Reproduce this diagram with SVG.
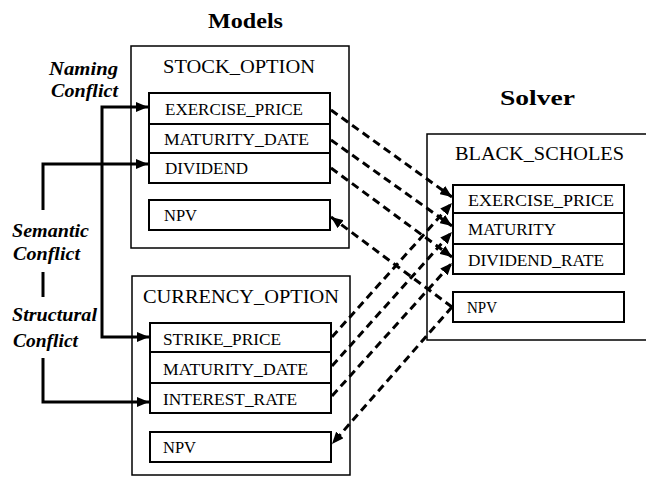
<svg xmlns="http://www.w3.org/2000/svg" width="646" height="479" viewBox="0 0 646 479">
<style>
.bg{fill:#ffffff}
.outer{fill:none;stroke:#000;stroke-width:1.5}
.row{fill:#fff;stroke:#000;stroke-width:2}
.sep{stroke:#000;stroke-width:2}
.title{font-family:"Liberation Serif","Times New Roman",serif;font-weight:bold;font-size:20px;fill:#000}
.name{font-family:"Liberation Serif","Times New Roman",serif;font-size:19px;fill:#000}
.attr{font-family:"Liberation Serif","Times New Roman",serif;font-size:16.5px;fill:#000}
.lbl{font-family:"Liberation Serif","Times New Roman",serif;font-weight:bold;font-style:italic;font-size:19px;fill:#000}
.solid{fill:none;stroke:#000;stroke-width:3}
.dash{fill:none;stroke:#000;stroke-width:3;stroke-dasharray:8 5}
</style>
<defs>
<marker id="arr" markerUnits="userSpaceOnUse" markerWidth="12" markerHeight="10" refX="12" refY="5" orient="auto-start-reverse" viewBox="0 0 12 10">
<path d="M0,0 L12,5 L0,10 z" fill="#000"/>
</marker>
</defs>
<rect class="bg" x="0" y="0" width="646" height="479"/>

<text class="title" x="208" y="28" textLength="75" lengthAdjust="spacingAndGlyphs">Models</text>
<text class="title" x="500" y="105" textLength="75" lengthAdjust="spacingAndGlyphs">Solver</text>

<g id="labels">
<text class="lbl" x="49" y="75" textLength="69" lengthAdjust="spacingAndGlyphs">Naming</text>
<text class="lbl" x="51" y="97" textLength="67" lengthAdjust="spacingAndGlyphs">Conflict</text>
<text class="lbl" x="12" y="237" textLength="77" lengthAdjust="spacingAndGlyphs">Semantic</text>
<text class="lbl" x="13" y="260" textLength="67" lengthAdjust="spacingAndGlyphs">Conflict</text>
<text class="lbl" x="12" y="321" textLength="85" lengthAdjust="spacingAndGlyphs">Structural</text>
<text class="lbl" x="13" y="347" textLength="65" lengthAdjust="spacingAndGlyphs">Conflict</text>
</g>

<g id="stock_option">
<rect class="outer" x="131" y="46" width="218" height="202"/>
<text class="name" x="163" y="73" textLength="152" lengthAdjust="spacingAndGlyphs">STOCK_OPTION</text>
<rect class="row" x="149" y="93" width="181" height="90"/>
<line class="sep" x1="149" y1="124" x2="330" y2="124"/>
<line class="sep" x1="149" y1="153" x2="330" y2="153"/>
<text class="attr" x="165" y="115" textLength="138" lengthAdjust="spacingAndGlyphs">EXERCISE_PRICE</text>
<text class="attr" x="164" y="145" textLength="145" lengthAdjust="spacingAndGlyphs">MATURITY_DATE</text>
<text class="attr" x="165" y="174" textLength="83" lengthAdjust="spacingAndGlyphs">DIVIDEND</text>
<rect class="row" x="149" y="200" width="181" height="30"/>
<text class="attr" x="164" y="221" textLength="33" lengthAdjust="spacingAndGlyphs">NPV</text>
</g>

<g id="currency_option">
<rect class="outer" x="132" y="276" width="218" height="199"/>
<text class="name" x="143" y="303" textLength="196" lengthAdjust="spacingAndGlyphs">CURRENCY_OPTION</text>
<rect class="row" x="150" y="323" width="181" height="90"/>
<line class="sep" x1="150" y1="352" x2="331" y2="352"/>
<line class="sep" x1="150" y1="383" x2="331" y2="383"/>
<text class="attr" x="163" y="345" textLength="118" lengthAdjust="spacingAndGlyphs">STRIKE_PRICE</text>
<text class="attr" x="163" y="375" textLength="145" lengthAdjust="spacingAndGlyphs">MATURITY_DATE</text>
<text class="attr" x="163" y="405" textLength="134" lengthAdjust="spacingAndGlyphs">INTEREST_RATE</text>
<rect class="row" x="150" y="432" width="181" height="30"/>
<text class="attr" x="163" y="453" textLength="33" lengthAdjust="spacingAndGlyphs">NPV</text>
</g>

<g id="black_scholes">
<rect class="outer" x="427" y="134" width="230" height="206"/>
<text class="name" x="455" y="160" textLength="169" lengthAdjust="spacingAndGlyphs">BLACK_SCHOLES</text>
<rect class="row" x="453" y="185" width="171" height="89"/>
<line class="sep" x1="453" y1="213" x2="624" y2="213"/>
<line class="sep" x1="453" y1="244" x2="624" y2="244"/>
<text class="attr" x="468" y="206" textLength="146" lengthAdjust="spacingAndGlyphs">EXERCISE_PRICE</text>
<text class="attr" x="468" y="235" textLength="88" lengthAdjust="spacingAndGlyphs">MATURITY</text>
<text class="attr" x="468" y="266" textLength="136" lengthAdjust="spacingAndGlyphs">DIVIDEND_RATE</text>
<rect class="row" x="453" y="292" width="171" height="30"/>
<text class="attr" x="467" y="313" textLength="30" lengthAdjust="spacingAndGlyphs">NPV</text>
</g>

<g id="connectors">
<path class="solid" d="M148,107 H102 V337 H149" marker-start="url(#arr)" marker-end="url(#arr)"/>
<path class="solid" d="M43,210 V164 H148" marker-end="url(#arr)"/>
<path class="solid" d="M43,272 V297"/>
<path class="solid" d="M43,358 V402 H149" marker-end="url(#arr)"/>

<path class="dash" d="M331,110 L452,197" marker-end="url(#arr)"/>
<path class="dash" d="M331,140 L452,226" marker-end="url(#arr)"/>
<path class="dash" d="M331,168 L452,257" marker-end="url(#arr)"/>
<path class="dash" d="M332,337 L452,203" marker-end="url(#arr)"/>
<path class="dash" d="M332,366 L452,232" marker-end="url(#arr)"/>
<path class="dash" d="M332,396 L452,263" marker-end="url(#arr)"/>
<path class="dash" d="M452,307 L331,217" marker-end="url(#arr)"/>
<path class="dash" d="M452,307 L332,444" marker-end="url(#arr)"/>
</g>
</svg>
